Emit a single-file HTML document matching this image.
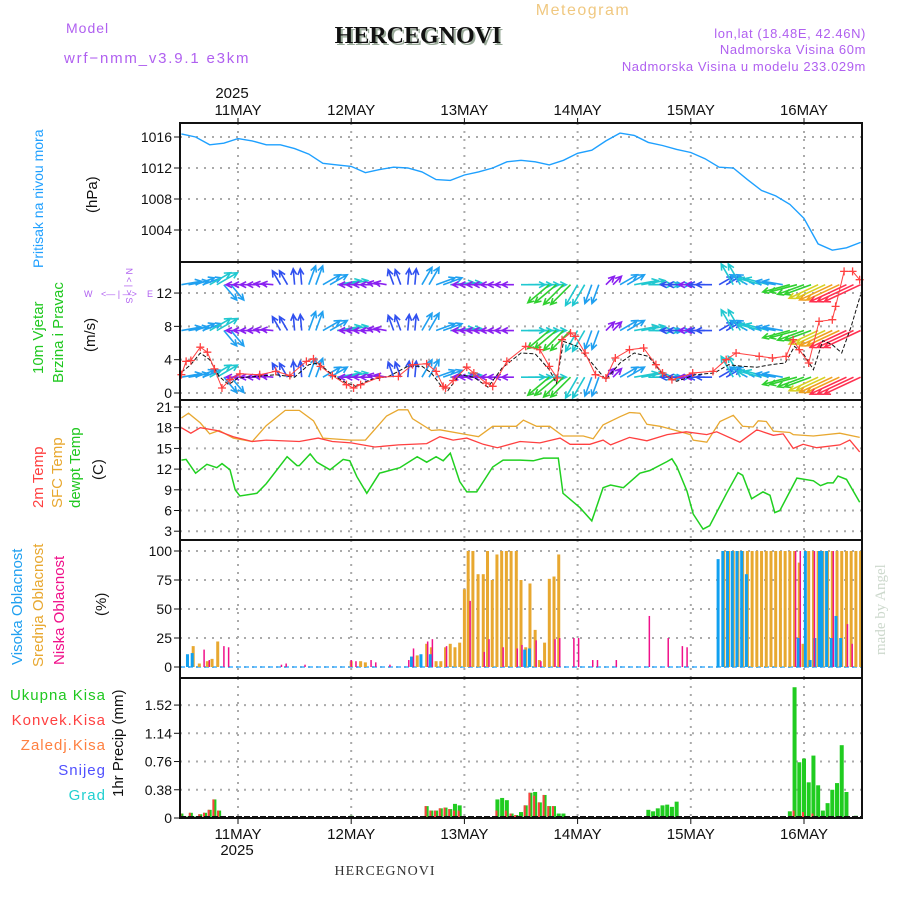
<!DOCTYPE html>
<html><head><meta charset="utf-8"><style>
html,body{margin:0;padding:0;background:#fff;}
svg{display:block;font-family:"Liberation Sans",sans-serif;}
</style></head><body>
<svg id="chart" width="900" height="900" viewBox="0 0 900 900">
<g id="titles">
<text x="66" y="33" font-size="14" fill="#b060f0" letter-spacing="1">Model</text>
<text x="64" y="63" font-size="15" fill="#b060f0" letter-spacing="1.8">wrf−nmm_v3.9.1 e3km</text>
<text x="420" y="45" font-size="24" font-weight="bold" font-family="Liberation Serif,serif" text-anchor="middle" fill="#9a9">HERCEGNOVI</text>
<text x="418" y="43" font-size="24" font-weight="bold" font-family="Liberation Serif,serif" text-anchor="middle" fill="#111">HERCEGNOVI</text>
<text x="583" y="15" font-size="16" fill="#f0c880" text-anchor="middle" letter-spacing="1.5">Meteogram</text>
<text x="866" y="38" font-size="13" fill="#b060f0" text-anchor="end" letter-spacing="0.6">lon,lat (18.48E, 42.46N)</text>
<text x="866" y="54" font-size="13" fill="#b060f0" text-anchor="end" letter-spacing="0.6">Nadmorska Visina 60m</text>
<text x="866" y="71" font-size="13" fill="#b060f0" text-anchor="end" letter-spacing="0.6">Nadmorska Visina u modelu 233.029m</text>
<text x="232" y="98" font-size="15" text-anchor="middle" fill="#111">2025</text>
<text x="237" y="855" font-size="15" text-anchor="middle" fill="#111">2025</text>
<text x="385" y="875" font-size="14" font-family="Liberation Serif,serif" text-anchor="middle" fill="#333" letter-spacing="1">HERCEGNOVI</text>
<text transform="translate(885,655) rotate(-90)" font-size="15" font-family="Liberation Serif,serif" fill="#ccd8cc">made by Angel</text>
<text transform="translate(43,268) rotate(-90)" font-size="14" fill="#20a0ff">Pritisak na nivou mora</text>
<text transform="translate(97,213) rotate(-90)" font-size="15" fill="#111">(hPa)</text>
<text transform="translate(43,374) rotate(-90)" font-size="15" fill="#20c820">10m Vjetar</text>
<text transform="translate(63,383) rotate(-90)" font-size="15" fill="#20c820">Brzina i Pravac</text>
<text transform="translate(95,352) rotate(-90)" font-size="15" fill="#111">(m/s)</text>
<g fill="#b060f0" font-size="9">
<text x="84" y="297">W</text><text x="147" y="297">E</text>
<text x="101" y="297">&lt;— | —&gt;</text>
<text transform="translate(126,268) rotate(90)">N &lt; | &gt; S</text>
</g>
<text transform="translate(43,508) rotate(-90)" font-size="15" fill="#ff4040">2m Temp</text>
<text transform="translate(62,508) rotate(-90)" font-size="15" fill="#e8a830">SFC Temp</text>
<text transform="translate(80,508) rotate(-90)" font-size="15" fill="#20c820">dewpt Temp</text>
<text transform="translate(103,480) rotate(-90)" font-size="15" fill="#111">(C)</text>
<text transform="translate(22,665) rotate(-90)" font-size="15" fill="#20a0f0">Visoka Oblacnost</text>
<text transform="translate(43,667) rotate(-90)" font-size="15" fill="#e8a830">Srednja Oblacnost</text>
<text transform="translate(64,665) rotate(-90)" font-size="15" fill="#f0108a">Niska Oblacnost</text>
<text transform="translate(106,616) rotate(-90)" font-size="15" fill="#111">(%)</text>
<g font-size="15" text-anchor="end" letter-spacing="1">
<text x="106" y="700" fill="#20c820">Ukupna  Kisa</text>
<text x="106" y="725" fill="#ff4040">Konvek.Kisa</text>
<text x="106" y="750" fill="#ff8040">Zaledj.Kisa</text>
<text x="106" y="775" fill="#5050ff">Snijeg</text>
<text x="106" y="800" fill="#20d0d0">Grad</text>
</g>
<text transform="translate(123,797) rotate(-90)" font-size="15" fill="#111">1hr Precip (mm)</text>
</g>
<g id="plot"></g>
</svg>
<script>
const dayLabels = ["11MAY","12MAY","13MAY","14MAY","15MAY","16MAY"];
const presT = [-12,-9,-6,-3,0,3,6,9,12,15,18,21,24,27,30,33,36,39,42,45,48,51,54,57,60,63,66,69,72,75,78,81,84,87,90,93,96,99,102,105,108,111,114,117,120,123,126,129,132];
const presV = [1016.4,1016.0,1015.0,1015.2,1015.8,1015.5,1015.0,1015.0,1014.5,1013.8,1012.6,1012.4,1012.2,1011.4,1011.8,1012.1,1012.0,1011.5,1010.5,1010.4,1011.1,1011.5,1012.0,1012.8,1013.0,1012.8,1012.4,1013.0,1013.9,1014.3,1015.5,1016.5,1016.2,1015.3,1014.9,1014.4,1014.0,1013.2,1012.1,1012.0,1010.5,1009.1,1008.4,1007.3,1005.5,1002.2,1001.4,1001.7,1002.4];
const presTicks = [1016,1012,1008,1004];
const windTicks = [0,4,8,12];
const gustT = [-12,-11,-10,-8,-6.5,-5,-3.4,-1.7,0.4,4.6,8,11,14.5,16,17.5,20,23,24.5,26,30,34,37,40,42,43.5,44,45.6,48.5,50,52.6,54,57,61,64,66,67.7,68.7,70.5,71.5,73.6,75.8,78,80,83,86,88.6,90,92,96.4,100.7,103.5,105.6,110.5,113.3,116.2,117.7,119,121,123.2,126,126.7,128.5,130.3,131.8];
const gustV = [2.2,3.8,3.9,5.5,4.9,2.9,0.6,1.6,2.3,2.2,2.6,2.1,3.8,4.1,3.2,2.1,1.0,0.6,1.0,1.9,2.0,3.4,3.5,2.6,0.8,0.6,1.5,3.1,2.4,1.2,0.8,3.8,5.6,5.2,3.2,1.8,6.4,7.2,6.8,4.8,2.2,1.8,4.2,5.2,5.4,3.4,2.4,1.6,2.4,2.6,4.0,4.8,4.4,4.2,4.4,6.4,5.2,3.6,8.6,8.8,10.4,14.6,14.6,13.6];
const windT = [-12,-10,-8,-6,-4,-2,0,4,8,12,15,17,20,23,25,28,32,36,39,41,43,44.5,47,50,53,56,60,63,66,67.5,69,72,75,78,81,84,87,90,93,97,101,104,107,110,113,116,118,120,122,124,126,128,130,132];
const windV = [2.5,3.4,4.8,4.0,2.0,1.0,1.8,2.0,2.2,1.9,3.4,3.6,2.2,1.2,0.8,1.6,2.0,3.2,3.2,2.4,0.9,0.3,2.2,1.9,0.7,3.0,4.8,4.7,2.8,1.2,6.2,5.6,3.6,1.6,3.6,4.8,4.4,2.3,1.4,2.2,2.4,3.4,3.2,3.1,3.4,3.6,5.6,4.6,2.8,6.3,5.8,4.8,8.0,11.8];
const arrowT = [-12,-9,-6,-3,0,3,6,9,12,15,18,21,24,27,30,33,36,39,42,45,48,51,54,57,60,63,66,69,72,75,78,81,84,87,90,93,96,99,102,105,108,111,114,117,120,123,126,129,132];
const arrowDir = [10,20,30,-50,180,180,175,120,95,70,30,10,180,180,170,110,85,60,20,5,180,180,180,180,0,0,220,225,240,250,45,30,10,0,0,180,180,180,30,120,150,165,170,195,200,205,205,205,205];
const arrowSpd = [2,2,3,2,0,0,0,1,1,2,2,3,0,0,0,1,1,2,2,3,0,0,0,0,3,3,4,4,3,2,0,2,3,3,2,1,0,1,1,3,2,3,2,4,4,5,6,7,7];
const arrowRows = [13,7.5,1.9];
const tempTicks = [21,18,15,12,9,6,3];
const t2T = [-12,-10,-8,-4.5,-1,3,6,13,17,20,24,29,34,40,42.8,45.6,48.5,52,55,59.8,64,68.3,70.4,74.6,77.4,79,83,86.7,91,95,99.4,101.5,106.4,110,113.5,115.6,117.7,119.8,122.7,127.6,129.7,131.8];
const t2V = [18,17.2,18,17.6,16.7,16.0,16.2,16.0,16.5,16.0,15.8,15.2,15.5,15.7,16.7,16.2,16.5,15.6,15.1,16.0,15.8,16.5,15.6,15.6,16.2,15.5,16.6,16.1,17.0,17.4,17.0,17.4,15.9,17.7,16.9,17.1,15.0,15.6,15.1,15.5,16.2,14.5];
const sfcT = [-12,-10.5,-8,-6,-4,-1,3,6,10,13,16,18,24,27,31.5,34,36,37,41,42.8,48.5,51,54,59,60.5,63.3,66.1,68.9,73.2,75.3,77.4,81,83,85.2,86.7,89.5,92.3,95.9,96.5,99.4,102.2,105,107,109.2,110.3,112,113.5,117,117.7,122,127.6,131.8];
const sfcV = [19.4,20.1,18.7,17.1,17.6,16.5,16.0,18.3,20.5,20.5,19.0,16.5,16.2,16.2,19.7,20.6,20.6,19.3,17.6,17.7,17.0,16.7,18.2,18.2,19.1,18.2,18.2,16.8,16.8,16.4,18.4,19.6,20.2,20.1,18.5,18.2,17.7,17.0,16.2,15.9,18.9,19.8,18.2,18.1,19.0,18.9,17.5,17.3,17.0,16.8,17.2,16.6];
const dewT = [-12,-11,-9,-6.6,-4.5,-3.4,-1.7,-0.6,0.4,4,6,10.4,12.5,13,15.3,16.7,19.5,22.3,23.7,25.2,27.3,30,34.3,38,40,42,43.5,45,47,48.5,50.6,54,56.2,59.8,62.6,64.8,67.9,68.9,72.5,75,77.4,79,81.7,85.2,87.3,91,92,93,95.2,96.5,98.6,100,103.6,106,107,108.9,111.3,112.8,113.8,114.9,118.5,122,123.5,125,126.2,127.2,129,131.8];
const dewV = [13.3,13.4,11.4,12.7,12.2,12.8,11.9,9.0,8.1,8.5,9.9,13.8,12.5,12.5,14.2,13.0,11.9,13.4,13.2,10.9,8.5,11.4,12.2,13.8,13.0,13.8,13.2,14.3,10.2,8.7,8.7,12.3,13.3,13.3,13.2,13.6,13.6,8.5,6.4,4.5,9.3,9.7,9.3,11.4,11.8,13.1,13.5,12.4,8.8,5.5,3.3,3.8,8.5,11.5,11.1,7.7,8.7,8.2,5.7,6.0,10.7,10.3,9.6,10.0,10.0,11.0,10.5,7.2];
const cloudTicks = [100,75,50,25,0];
const highT = [-10.5,-9.5,37,39,41,61,62,102,103,104,105,106,107,108,119,120.5,121.5,122.5,123.5,124,125,126,127,128];
const highV = [11,12,9,11,11,15,16,93,100,100,100,100,100,80,25,100,6,25,100,100,100,25,44,25];
const midT = [-9.5,-8.2,-6.5,-5.5,-4.3,24,26,27,38,40,41,42,43,44,45,46,47,48,48.8,49.8,50.9,52,52.9,53.9,54.9,55.9,56.9,57.9,59,60,61,61.9,63,63.9,65,66,67,68,103,104,105,106,107,108,109,110,111,112,113,114,115,116,117,118,119,119.8,121,122,123,124,125,126,127,128,129,130,131,132];
const midV = [18,3,5,7,22,5,5,4,10,20,17,5,5,17,20,17,21,67,100,100,80,80,100,75,97,100,100,100,100,75,17,72,32,6,21,76,78,97,100,100,100,100,100,100,100,100,100,100,100,100,100,100,100,100,90,20,100,100,100,100,100,100,100,100,100,100,100,100];
const lowT = [-7.4,-6.3,-3.2,-2.2,9,10,14,23.8,24.8,28,29,32,36,37,40,41,44,49,52,53,56,59,60,63,64,67,68,71,72,75,76,80,87,91,94,95,118,119,122,126,129,130];
const lowV = [15,6,18,17,2,3,2,6,5,6,4,2,6,16,22,24,18,57,13,24,17,16,19,23,5,24,25,25,25,6,6,6,44,25,18,17,100,100,100,100,37,20];
const precipTicks = [1.52,1.14,0.76,0.38,0];
const rainT = [-12,-11,-10,-9,-8,-7,-6,-5,-4,-3,24,39,40,41,42,43,44,45,46,47,54,55,56,57,58,59,60,61,62,63,64,65,66,67,68,69,87,88,89,90,91,92,93,117,118,119,120,121,122,123,124,125,126,127,128,129,131];
const rainV = [0.06,0.02,0.07,0.02,0.05,0.07,0.11,0.25,0.10,0.01,0.03,0.01,0.16,0.10,0.10,0.13,0.14,0.12,0.19,0.17,0.01,0.25,0.27,0.24,0.06,0.04,0.08,0.17,0.34,0.35,0.21,0.31,0.16,0.16,0.06,0.06,0.11,0.09,0.13,0.17,0.18,0.15,0.22,0.09,1.76,0.75,0.80,0.48,0.84,0.44,0.10,0.20,0.38,0.47,0.98,0.35,0.03];
const convT = [-12,-10,-8,-7,-6,-5,-4,24,40,41,42,43,44,45,46,47,54,55,57,58,59,61,62,63,64,65,66,67,118,120,122];
const convV = [0.06,0.07,0.05,0.07,0.11,0.25,0.10,0.02,0.16,0.10,0.10,0.13,0.14,0.12,0.10,0.10,0.01,0.10,0.10,0.06,0.04,0.17,0.34,0.30,0.21,0.31,0.16,0.16,0.10,0.08,0.06];

const NS="http://www.w3.org/2000/svg";
const X0=180,X1=862;
const xS=t=>238+t*113.2/24;
const panels={pres:[123,262],wind:[262,400],temp:[400,540],cloud:[540,678],precip:[678,818]};
const yPres=v=>137+(1016-v)*7.75;
const yWind=v=>393-v*8.33;
const yTemp=v=>407+(21-v)*6.9;
const yCloud=v=>667-v*1.16;
const yPrec=v=>818-v*74.3;
const plot=document.getElementById('plot');
function mk(tag,attrs,parent){const e=document.createElementNS(NS,tag);for(const k in attrs)e.setAttribute(k,attrs[k]);(parent||plot).appendChild(e);return e;}

const days=[0,24,48,72,96,120];
for(const key in panels){
  const [a,b]=panels[key];
  days.forEach(d=>{const l=mk('line',{x1:xS(d),x2:xS(d),y1:a,y2:b,stroke:'#aaa','stroke-width':2,'stroke-dasharray':'2,6'});
    
    });
}
function yTicks(ticks,fy,labels,name){
  ticks.forEach((v,i)=>{const y=fy(v);
    const g=mk('line',{x1:X0,x2:X1,y1:y,y2:y,stroke:'#aaa','stroke-width':2,'stroke-dasharray':'2,6'});
    
    
    mk('line',{x1:X0-6,x2:X0,y1:y,y2:y,stroke:'#111','stroke-width':1});
    const t=mk('text',{x:X0-8,y:y+5,'font-size':14,'text-anchor':'end',fill:'#111'});t.textContent=labels[i];
    
    });
}
yTicks(presTicks,yPres,presTicks.map(String),'pressure');
yTicks(windTicks,yWind,windTicks.map(String),'wind');
yTicks(tempTicks,yTemp,tempTicks.map(String),'temp');
yTicks(cloudTicks,yCloud,cloudTicks.map(String),'cloud');
yTicks(precipTicks,yPrec,precipTicks.map(v=>v===0?'0':v.toFixed(2)),'precip');

dayLabels.forEach((s,i)=>{const x=xS(i*24);
  const a=mk('text',{x:x,y:115,'font-size':15,'text-anchor':'middle',fill:'#111'});a.textContent=s;
  
  
  const b=mk('text',{x:x,y:839,'font-size':15,'text-anchor':'middle',fill:'#111'});b.textContent=s;
  
  
  mk('line',{x1:x,x2:x,y1:118,y2:123,stroke:'#111'});mk('line',{x1:x,x2:x,y1:818,y2:824,stroke:'#111'});
});

function line(T,V,fy,color,name,w){
  const d=T.map((t,i)=>(i?'L':'M')+xS(t).toFixed(1)+','+fy(V[i]).toFixed(1)).join('');
  const p=mk('path',{d:d,fill:'none',stroke:color,'stroke-width':w||1.3});
  
  
  return p;
}
line(presT,presV,yPres,'#1ea0ff','pressure-line',1.4);

const spdColors=['#8a20f0','#3050f0','#20a0f0','#20c8d0','#30d030','#d8d020','#f0a020','#ff3050'];
const rowG=mk('g',{});


function arrow(x,y,ang,spd){
  const L=12+spd*4,a=ang*Math.PI/180;
  const hx=Math.cos(a),hy=-Math.sin(a),c=spdColors[spd];
  const x2=x+hx*L,y2=y+hy*L;
  const h1x=x2-6*hx+3*hy,h1y=y2-6*hy-3*hx,h2x=x2-6*hx-3*hy,h2y=y2-6*hy+3*hx;
  mk('path',{d:`M${x},${y}L${x2},${y2}M${h1x},${h1y}L${x2},${y2}L${h2x},${h2y}`,stroke:c,'stroke-width':1.6,fill:'none'},rowG);
}
arrowRows.forEach(rv=>{
  arrowT.forEach((t,i)=>{
    const y=yWind(rv);
    arrow(xS(t),y,arrowDir[i],arrowSpd[i]);
    if(t<132) arrow(xS(t+1.5),y,arrowDir[i],arrowSpd[i]);
  });
});
const wl=line(windT,windV,yWind,'#111','wind-speed-line',1);wl.setAttribute('stroke-dasharray','4,2');
line(gustT,gustV,yWind,'#ff4040','gust-line',1);
gustT.forEach((t,i)=>{const x=xS(t),y=yWind(gustV[i]);
  const c=mk('path',{d:`M${x-4},${y}H${x+4}M${x},${y-4}V${y+4}`,stroke:'#ff4040','stroke-width':1.3});
  
  });

line(sfcT,sfcV,yTemp,'#e8a830','sfc-temp-line');
line(t2T,t2V,yTemp,'#ff4040','temp-2m-line');
line(dewT,dewV,yTemp,'#20d020','dewpoint-line',1.5);

mk('line',{x1:X0,x2:X1,y1:yCloud(0),y2:yCloud(0),stroke:'#40b0ff','stroke-width':1.5,'stroke-dasharray':'5,3'});
function bars(T,V,fy,color,off,w,name){
  T.forEach((t,i)=>{const y=fy(V[i]),y0=fy(0);
    const r=mk('rect',{x:xS(t)+off-w/2,y:y,width:w,height:Math.max(0.5,y0-y),fill:color});
    
    });
}
bars(midT,midV,yCloud,'#e8a830',0,3,'mid-cloud-bar');
bars(highT,highV,yCloud,'#10a0f0',-1,3,'high-cloud-bar');
bars(lowT,lowV,yCloud,'#f0108a',1,1.5,'low-cloud-bar');

bars(rainT,rainV,yPrec,'#20cc20',0,4,'total-precip-bar');
bars(convT,convV,yPrec,'#ff4040',-1,2,'convective-precip-bar');
mk('line',{x1:X0,x2:X1,y1:817,y2:817,stroke:'#111','stroke-width':2,'stroke-dasharray':'6,2'});

for(const key in panels){const [a,b]=panels[key];
  const r=mk('rect',{x:X0,y:a,width:X1-X0,height:b-a,fill:'none',stroke:'#111','stroke-width':2});
  
  }
</script>
</body></html>
